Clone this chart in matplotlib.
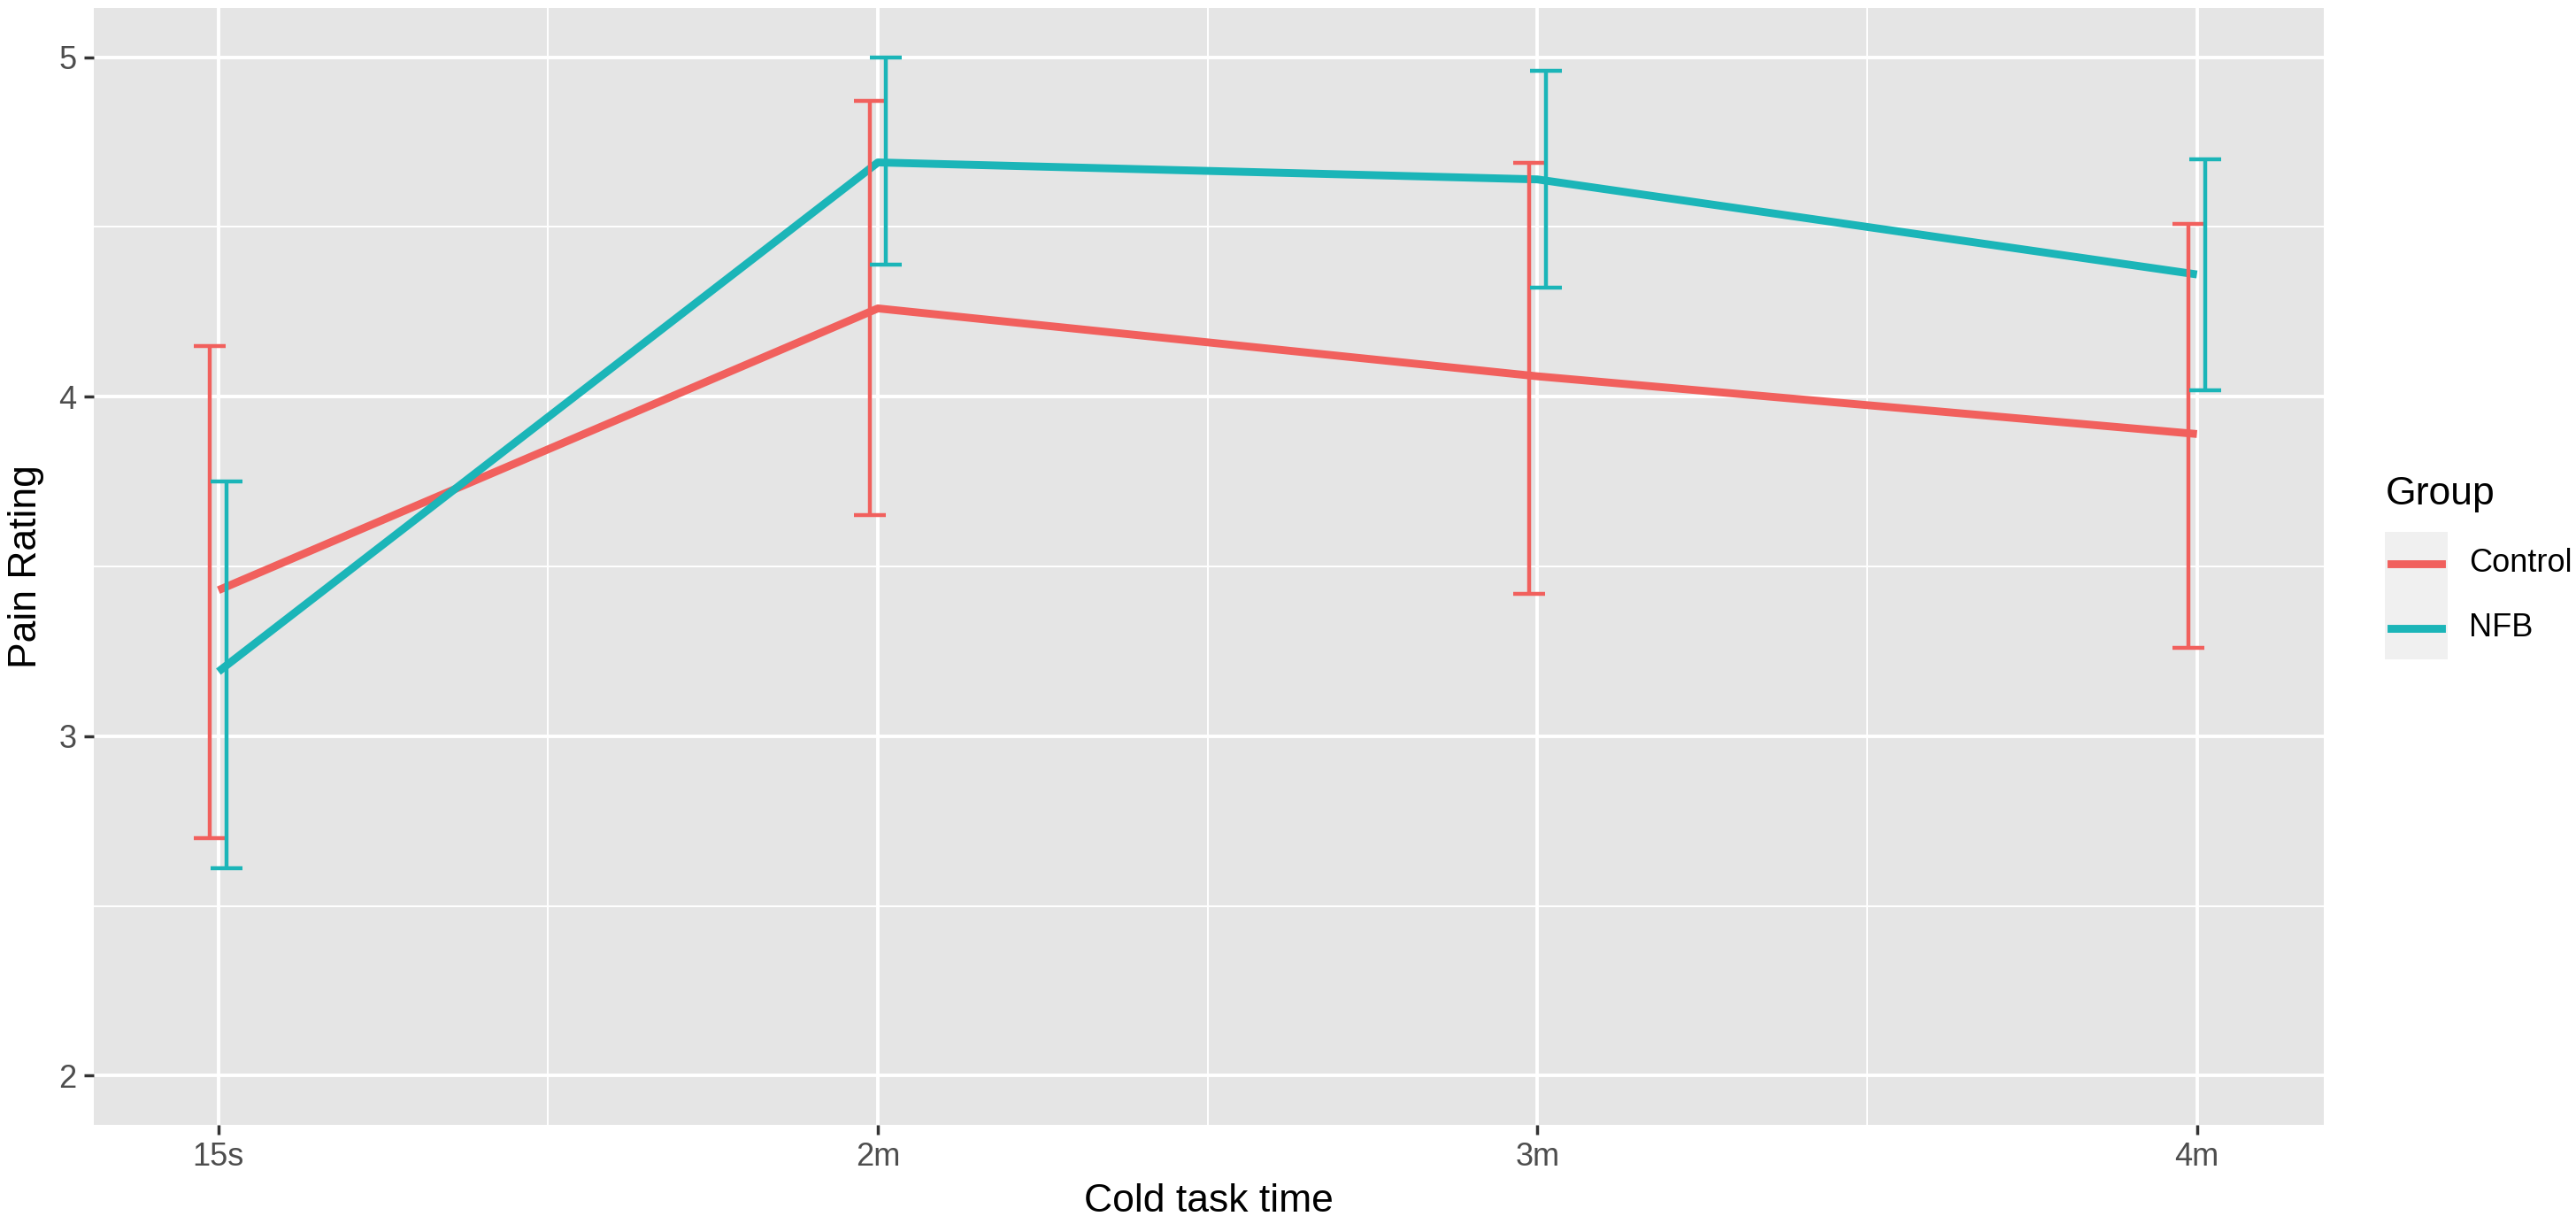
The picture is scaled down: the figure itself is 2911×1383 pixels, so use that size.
import matplotlib
matplotlib.use("Agg")
import matplotlib.pyplot as plt
from matplotlib.patches import Rectangle
from matplotlib.lines import Line2D
import numpy as np

plt.rcParams['font.family'] = ['Liberation Sans', 'DejaVu Sans']

# data
times = ['15s', '2m', '3m', '4m']
groups = ['Control', 'NFB']
colors = ['#F1605D', '#1BB5B8']

control_mean = [3.43, 4.26, 4.06, 3.89]
control_lo = [2.70, 3.65, 3.42, 3.26]
control_hi = [4.15, 4.87, 4.69, 4.51]

nfb_mean = [3.19, 4.69, 4.64, 4.36]
nfb_lo = [2.61, 4.39, 4.32, 4.02]
nfb_hi = [3.75, 5.00, 4.96, 4.70]

means = [control_mean, nfb_mean]
lows = [control_lo, nfb_lo]
highs = [control_hi, nfb_hi]

fig = plt.figure(figsize=(14.555, 6.915), dpi=200)
ax = fig.add_axes([0.0364, 0.081, 0.8656, 0.9125])
ax.set_facecolor('#E5E5E5')

x = np.arange(len(times))
dodge = [-0.0126, 0.0126]

for g in range(len(groups)):
    m = np.array(means[g])
    lo = np.array(lows[g])
    hi = np.array(highs[g])
    ax.plot(x, m, color=colors[g], lw=3.2, solid_capstyle='butt', zorder=3)
    ax.errorbar(x + dodge[g], m, yerr=[m - lo, hi - m], fmt='none',
                ecolor=colors[g], elinewidth=1.6, capsize=6.5, capthick=1.6, zorder=4)

ax.set_xlim(-0.189, 3.192)
ax.set_ylim(1.855, 5.145)
ax.set_xticks(x)
ax.set_xticklabels(times)
ax.set_xticks(x[:-1] + 0.5, minor=True)
ax.set_yticks([2, 3, 4, 5])
ax.set_yticks([2.5, 3.5, 4.5], minor=True)

ax.grid(which='major', color='white', lw=1.4)
ax.grid(which='minor', color='white', lw=0.7)
ax.set_axisbelow(True)
for s in ax.spines.values():
    s.set_visible(False)

ax.tick_params(axis='both', which='major', length=4, width=1.25, color='#333333',
               labelsize=13, labelcolor='#4D4D4D', pad=3)
ax.tick_params(axis='both', which='minor', length=0)

ax.set_xlabel('Cold task time', fontsize=16, color='black', labelpad=4)
ax.set_ylabel('Pain Rating', fontsize=16, color='black', labelpad=6)

# legend drawn ggplot-style
fig.text(0.9262, 0.596, 'Group', fontsize=16, ha='left', va='center')
kx0, kx1 = 2695 / 2911, 2766 / 2911
ky0, ky1 = 1 - 745 / 1383, 1 - 601 / 1383
fig.patches.append(Rectangle((kx0, ky0), kx1 - kx0, ky1 - ky0, transform=fig.transFigure,
                             facecolor='#F0F0F0', edgecolor='none'))
for i, (name, c) in enumerate(zip(groups, colors)):
    yc = 1 - (637 + 73 * i) / 1383
    fig.lines.append(Line2D([kx0 + 0.0025, kx1 - 0.0025], [yc, yc], transform=fig.transFigure,
                            color=c, lw=3.2))
    fig.text(2790 / 2911, yc, name, fontsize=13, ha='left', va='center')

fig.savefig('out.png', dpi=200)
